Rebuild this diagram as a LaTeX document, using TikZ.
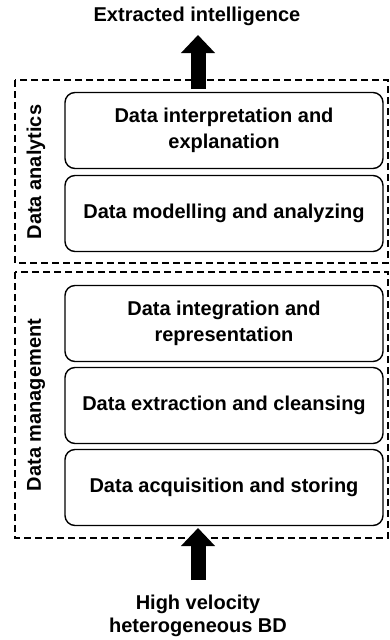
\documentclass[tikz,border=0pt]{standalone}
\usepackage{fontspec}
\setmainfont{Liberation Sans}
\usetikzlibrary{arrows.meta}
\begin{document}
\begin{tikzpicture}[x=1pt,y=-1pt,
  stage/.style={draw, line width=1.4pt, rounded corners=10pt,
    minimum width=318pt, minimum height=76pt, align=center,
    font=\fontsize{20}{26}\selectfont\bfseries},
  group/.style={draw, line width=1.6pt, dash pattern=on 7pt off 4pt},
  grouplabel/.style={rotate=90, font=\fontsize{20}{24}\selectfont\bfseries},
  label/.style={align=center, font=\fontsize{20}{23}\selectfont\bfseries},
  flow/.style={line width=15pt, -{Triangle[width=33pt,length=18pt]}}]
\useasboundingbox (0,0) rectangle (389,640);

% dashed group frames
\draw[group] (15,80) rectangle (388,263);
\draw[group] (15,272) rectangle (388,538);
\node[grouplabel] (ga) at (36,172) {Data analytics};
\node[grouplabel] (gm) at (36,405) {Data management};

% processing stages
\node[stage] (s1) at (224,130.5) {Data interpretation and\\explanation};
\node[stage] (s2) at (224,213.5) {Data modelling and analyzing};
\node[stage] (s3) at (224,323.5) {Data integration and\\representation};
\node[stage] (s4) at (224,405.5) {Data extraction and cleansing};
\node[stage] (s5) at (224,487.5) {Data acquisition and storing};

% input and output
\node[label] (out) at (197,16) {Extracted intelligence};
\node[label] (in) at (198,616) {High velocity\\heterogeneous BD};

\coordinate (outtip) at (198,35);
\coordinate (outfoot) at (198,89);
\coordinate (intip) at (198,528);
\coordinate (infoot) at (198,580);
\draw[flow] (outfoot) -- (outtip);
\draw[flow] (infoot) -- (intip);
\end{tikzpicture}
\end{document}
